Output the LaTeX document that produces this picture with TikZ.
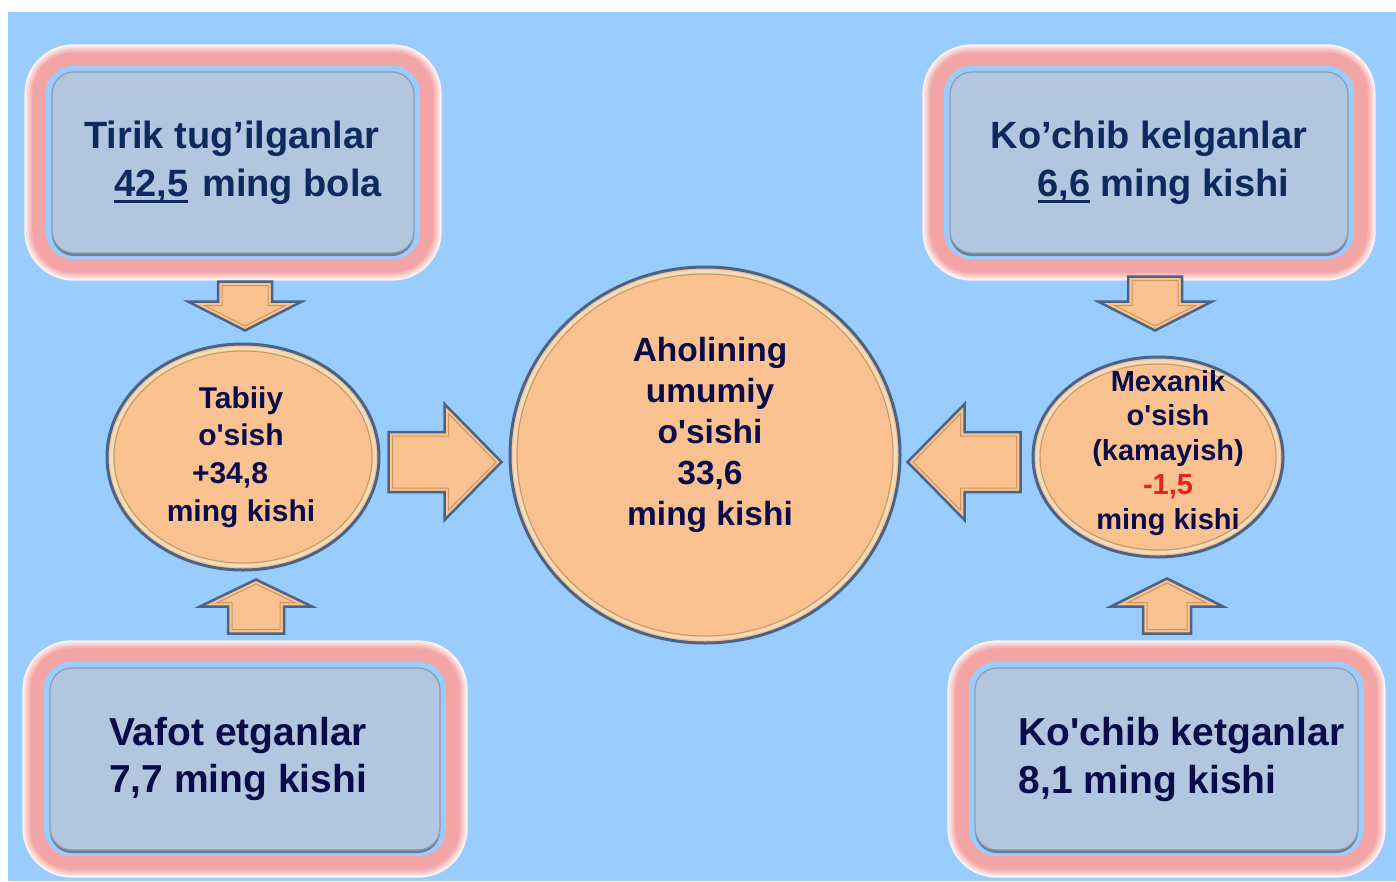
\documentclass[tikz,border=0pt]{standalone}
\usepackage{fontspec}
\setmainfont{Liberation Sans}
\usetikzlibrary{shapes.geometric}

\definecolor{bgblue}{HTML}{99CCFF}
\definecolor{boxfill}{HTML}{B3C6DF}
\definecolor{boxedge}{HTML}{8C9AB0}
\definecolor{boxshade}{HTML}{6F7D8F}
\definecolor{glowpink}{HTML}{F3A4A4}
\definecolor{peach}{HTML}{FAC291}
\definecolor{rimblue}{HTML}{4A6488}
\definecolor{rimcream}{HTML}{F2DDBE}
\definecolor{rimtan}{HTML}{C9965F}
\definecolor{navytop}{HTML}{0D2A5E}
\definecolor{navydark}{HTML}{0B0B4A}
\definecolor{minusred}{HTML}{E42222}

% thick underline for the numbers
\newcommand{\numul}[1]{\setbox0\hbox{#1}\rlap{\rule[-6.5pt]{\wd0}{3pt}}\box0\relax}

\tikzset{
	box/.style={rounded corners=22pt, fill=boxfill, draw=boxedge, line width=1.2pt,
		inner sep=0pt, align=left, preaction={fill=boxshade, transform canvas={yshift=-3pt}}},
	oval/.style={ellipse, fill=peach, draw=rimblue, line width=3pt, inner sep=0pt},
	ovaltext/.style={text=navydark, align=center, inner sep=0pt},
	arrowbody/.style={fill=peach, draw=rimblue, line width=2.5pt, line join=miter},
	arrowbevel/.style={draw=rimtan, line width=1pt},
	pics/blockarrow/.style n args={4}{code={
		% #1 shaft length, #2 head length, #3 half shaft, #4 half head
		\pgfmathsetmacro{\arhyp}{sqrt(#2*#2+#4*#4)}
		\pgfmathsetmacro{\artb}{(4+4*#4/\arhyp)/#2}
		\pgfmathsetmacro{\arby}{-#4+\artb*#4+4*#2/\arhyp}
		\pgfmathsetmacro{\artx}{#1+#2*(#4-4*#2/\arhyp)/#4-4*#4/\arhyp}
		\draw[arrowbody] (0,-#3) -- (#1,-#3) -- (#1,-#4) -- ({#1+#2},0) -- (#1,#4) -- (#1,#3) -- (0,#3) -- cycle;
		\draw[arrowbevel] (4,{-#3+4}) -- ({#1+4},{-#3+4}) -- ({#1+4},\arby) -- (\artx,0)
			-- ({#1+4},{-\arby}) -- ({#1+4},{#3-4}) -- (4,{#3-4}) -- cycle;
	}}
}

\begin{document}
\begin{tikzpicture}[x=1pt, y=-1pt]
	\useasboundingbox (0,0) rectangle (1396,881);
	\fill[white] (0,0) rectangle (1396,881);
	\fill[bgblue] (8,12) rectangle (1396,881);

	% boxes
	\node[box, minimum width=362pt, minimum height=181pt, text=navytop,
		font=\bfseries\fontsize{38}{48}\selectfont] (tl) at (233,162.5)
		{Tirik tug’ilganlar\\\hspace*{30pt}\numul{42,5}\hspace{14pt}ming bola};
	\node[box, minimum width=398pt, minimum height=181pt, text=navytop,
		font=\bfseries\fontsize{38}{48}\selectfont] (tr) at (1149,162.5)
		{Ko’chib kelganlar\\\hspace*{47pt}\numul{6,6} ming kishi};
	\node[box, minimum width=390pt, minimum height=182pt, text=navydark,
		font=\bfseries\fontsize{39}{47}\selectfont] (bl) at (245,759)
		{Vafot etganlar\hspace*{14pt}\\7,7 ming kishi};
	\node[box, minimum width=383pt, minimum height=182pt, text=navydark,
		font=\bfseries\fontsize{39}{48}\selectfont] (br) at (1166.5,759)
		{\hspace*{30pt}Ko\textquotesingle chib ketganlar\\\hspace*{30pt}8,1 ming kishi};

	% pink glow round the boxes
	\foreach \b in {tl,tr,bl,br}
		\foreach \i in {0,...,9} {
			\pgfmathsetmacro{\w}{21-2*\i}
			\pgfmathsetmacro{\o}{6+\w/2}
			\pgfmathtruncatemacro{\p}{min(100,15+22*\i)}
			\draw[line width=\w pt, draw=glowpink!\p!white, rounded corners={22+\o}]
				([shift={(-\o*1pt,-\o*1pt)}]\b.south west) rectangle ([shift={(\o*1pt,\o*1pt)}]\b.north east);
		}

	% ovals
	\node[oval, minimum width=272pt, minimum height=226pt] (le) at (243,457) {};
	\node[oval, minimum width=390pt, minimum height=376pt] (cc) at (705,455) {};
	\node[oval, minimum width=250pt, minimum height=200pt] (re) at (1158,457) {};
	\foreach \e/\rx/\ry in {le/136/113, cc/195/188, re/125/100} {
		\draw[rimcream, line width=3pt] (\e.center) ellipse [x radius={\rx-4.5}, y radius={\ry-4.5}];
		\draw[rimtan, line width=1pt] (\e.center) ellipse [x radius={\rx-7}, y radius={\ry-7}];
	}

	\node[ovaltext, font=\bfseries\fontsize{30}{37.7}\selectfont] (le-t) at ([xshift=-2pt]le.center)
		{Tabiiy\\o\textquotesingle sish\\\mbox{+34,8\hspace{22pt}}\\ming kishi};
	\node[ovaltext, font=\bfseries\fontsize{33.5}{41}\selectfont] (cc-t) at ([shift={(5pt,20pt)}]cc.center)
		{Aholining\\umumiy\\o\textquotesingle sishi\\33,6\\ming kishi};
	\node[ovaltext, font=\bfseries\fontsize{29}{34.5}\selectfont] (re-t) at ([shift={(10pt,4pt)}]re.center)
		{Mexanik\\o\textquotesingle sish\\(kamayish)\\\textcolor{minusred}{-1,5}\\ming kishi};

	% block arrows
	\pic[rotate=-90] at ([shift={(2pt,61pt)}]le.north) {blockarrow={20}{29}{27}{57}};
	\pic[rotate=90] at ([shift={(13pt,-62pt)}]le.south) {blockarrow={27}{27}{28}{56}};
	\pic[rotate=-90] at ([shift={(-3pt,79pt)}]re.north) {blockarrow={25}{29}{27}{57}};
	\pic[rotate=90] at ([shift={(9pt,-75pt)}]re.south) {blockarrow={27}{28}{24}{56}};
	\pic at ([shift={(8pt,-5pt)}]le.east) {blockarrow={56}{57}{30}{58}};
	\pic[rotate=180] at ([shift={(-11pt,-5pt)}]re.west) {blockarrow={56}{57}{30}{58}};
\end{tikzpicture}
\end{document}
